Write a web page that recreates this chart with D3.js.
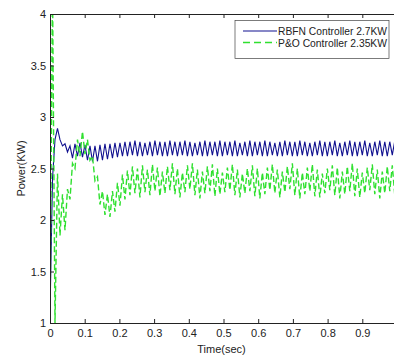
<!DOCTYPE html>
<html>
<head>
<meta charset="utf-8">
<script src="https://cdn.jsdelivr.net/npm/d3@7"></script>
<style>
  body { margin: 0; background: #fff; }
  svg { display: block; font-family: "Liberation Sans", Arial, sans-serif; }
  .axis text { font-size: 11px; fill: #222; }
  .axis path, .axis line { stroke: #222; }
</style>
</head>
<body>
<div id="chart"></div>
<script>
// sampling step of both traces (s)
const sampleStep = 0.0072;

const rbfnPower = [
  1.10, 2.40, 2.78, 2.89, 2.78, 2.72, 2.74, 2.66, 2.72, 2.60,
  2.74, 2.62, 2.75, 2.61, 2.73, 2.58, 2.72, 2.57, 2.72, 2.57,
  2.73, 2.58, 2.74, 2.59, 2.74, 2.60, 2.75, 2.61, 2.75, 2.62,
  2.76, 2.62, 2.76, 2.63, 2.77, 2.62, 2.76, 2.62, 2.75, 2.63,
  2.76, 2.62, 2.77, 2.63, 2.76, 2.62, 2.76, 2.62, 2.77, 2.63,
  2.76, 2.62, 2.76, 2.63, 2.77, 2.62, 2.76, 2.62, 2.75, 2.63,
  2.76, 2.62, 2.77, 2.62, 2.76, 2.63, 2.76, 2.62, 2.77, 2.62,
  2.76, 2.63, 2.76, 2.62, 2.77, 2.62, 2.75, 2.63, 2.76, 2.62,
  2.77, 2.62, 2.76, 2.63, 2.76, 2.62, 2.77, 2.62, 2.76, 2.63,
  2.75, 2.62, 2.76, 2.62, 2.77, 2.63, 2.76, 2.62, 2.76, 2.62,
  2.77, 2.63, 2.76, 2.62, 2.75, 2.62, 2.76, 2.63, 2.77, 2.62,
  2.76, 2.62, 2.76, 2.63, 2.77, 2.62, 2.75, 2.62, 2.76, 2.63,
  2.77, 2.62, 2.76, 2.62, 2.76, 2.63, 2.77, 2.62, 2.75, 2.62,
  2.76, 2.63, 2.77, 2.62, 2.76, 2.62, 2.76, 2.63, 2.77, 2.62
];

const poPower = [
  1.00, 4.30, 1.00, 2.45, 1.85, 2.25, 1.90, 2.30, 2.20, 2.55,
  2.50, 2.78, 2.62, 2.86, 2.64, 2.78, 2.58, 2.62, 2.38, 2.42,
  2.15, 2.28, 2.05, 2.25, 2.03, 2.28, 2.08, 2.36, 2.14, 2.44,
  2.20, 2.48, 2.24, 2.52, 2.26, 2.50, 2.22, 2.53, 2.27, 2.49,
  2.24, 2.54, 2.28, 2.51, 2.23, 2.47, 2.26, 2.52, 2.29, 2.55,
  2.25, 2.50, 2.22, 2.46, 2.27, 2.53, 2.30, 2.55, 2.24, 2.49,
  2.21, 2.47, 2.26, 2.52, 2.28, 2.54, 2.23, 2.50, 2.25, 2.46,
  2.27, 2.51, 2.29, 2.54, 2.24, 2.49, 2.22, 2.45, 2.26, 2.50,
  2.28, 2.53, 2.23, 2.50, 2.21, 2.46, 2.25, 2.51, 2.29, 2.54,
  2.26, 2.49, 2.22, 2.47, 2.27, 2.52, 2.30, 2.55, 2.24, 2.50,
  2.21, 2.46, 2.25, 2.51, 2.28, 2.54, 2.23, 2.49, 2.22, 2.45,
  2.26, 2.50, 2.29, 2.53, 2.24, 2.51, 2.21, 2.47, 2.25, 2.52,
  2.28, 2.55, 2.23, 2.50, 2.22, 2.46, 2.26, 2.51, 2.29, 2.54,
  2.25, 2.49, 2.21, 2.47, 2.26, 2.52, 2.28, 2.53, 2.24, 2.50
];

const xTicks = [0, 0.1, 0.2, 0.3, 0.4, 0.5, 0.6, 0.7, 0.8, 0.9];
const yTicks = [1, 1.5, 2, 2.5, 3, 3.5, 4];
const legendLabels = ['RBFN Controller 2.7KW', 'P&O Controller 2.35KW'];

const width = 394, height = 358;
const margin = { left: 50, top: 14, bottom: 35 };
const plotRight = 397; // axes run a little past the cropped image edge

const svg = d3.select('#chart').append('svg')
  .attr('width', width)
  .attr('height', height);

const x = d3.scaleLinear().domain([0, 1]).range([margin.left, plotRight]);
const y = d3.scaleLinear().domain([1, 4]).range([height - margin.bottom, margin.top]);

svg.append('defs').append('clipPath').attr('id', 'plotClip')
  .append('rect')
  .attr('x', x(0)).attr('y', y(4))
  .attr('width', x(1) - x(0)).attr('height', y(1) - y(4));

const line = d3.line()
  .x((d, i) => x(i * sampleStep))
  .y(d => y(d));

const traces = svg.append('g').attr('clip-path', 'url(#plotClip)');

traces.append('path')
  .datum(rbfnPower)
  .attr('d', line)
  .attr('fill', 'none')
  .attr('stroke', '#10108f')
  .attr('stroke-width', 1.1);

traces.append('path')
  .datum(poPower)
  .attr('d', line)
  .attr('fill', 'none')
  .attr('stroke', '#2fe02f')
  .attr('stroke-width', 1.4)
  .attr('stroke-dasharray', '6,3');

// axes, ticks pointing inward
svg.append('g').attr('class', 'axis')
  .attr('transform', `translate(0,${y(1)})`)
  .call(d3.axisBottom(x).tickValues(xTicks).tickSizeInner(-4).tickSizeOuter(0)
    .tickPadding(6).tickFormat(d3.format('')));

svg.append('g').attr('class', 'axis')
  .attr('transform', `translate(0,${y(4)})`)
  .call(d3.axisTop(x).tickValues(xTicks).tickSizeInner(-4).tickSizeOuter(0)
    .tickFormat(''));

svg.append('g').attr('class', 'axis')
  .attr('transform', `translate(${x(0)},0)`)
  .call(d3.axisLeft(y).tickValues(yTicks).tickSizeInner(-4).tickSizeOuter(0)
    .tickPadding(4).tickFormat(d3.format('')));

svg.append('text')
  .attr('x', x(0.5) - 2)
  .attr('y', 353)
  .attr('text-anchor', 'middle')
  .style('font-size', '11px')
  .style('fill', '#222')
  .text('Time(sec)');

svg.append('text')
  .attr('transform', `translate(25,${(y(1) + y(4)) / 2}) rotate(-90)`)
  .attr('text-anchor', 'middle')
  .style('font-size', '11px')
  .style('fill', '#222')
  .text('Power(KW)');

// legend
const legend = svg.append('g');
legend.append('rect')
  .attr('x', 235).attr('y', 20.5)
  .attr('width', 154).attr('height', 38)
  .attr('fill', '#fff')
  .attr('stroke', '#444')
  .attr('stroke-width', 0.7);

const legendStyles = [
  { color: '#10108f', dash: null, width: 1.1 },
  { color: '#2fe02f', dash: '7,4', width: 1.3 }
];

legendLabels.forEach((label, i) => {
  const ly = 31 + i * 11.5;
  legend.append('line')
    .attr('x1', 243).attr('x2', 277)
    .attr('y1', ly).attr('y2', ly)
    .attr('stroke', legendStyles[i].color)
    .attr('stroke-width', legendStyles[i].width)
    .attr('stroke-dasharray', legendStyles[i].dash);
  legend.append('text')
    .attr('x', 278)
    .attr('y', ly + 4)
    .attr('textLength', 109)
    .attr('lengthAdjust', 'spacingAndGlyphs')
    .style('font-size', '11px')
    .style('fill', '#222')
    .text(label);
});
</script>
</body>
</html>
